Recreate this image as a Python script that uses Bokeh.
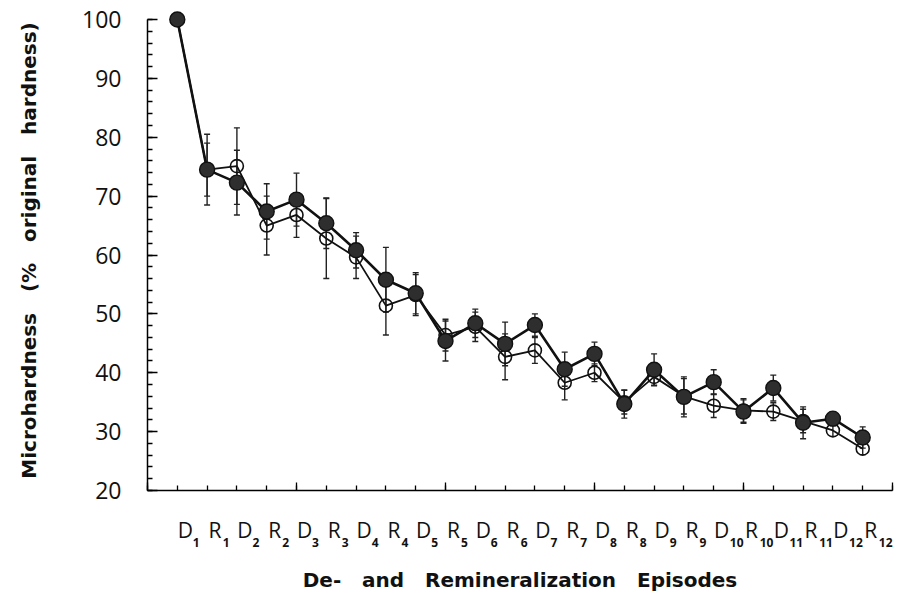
from bokeh.plotting import figure
from bokeh.models import ColumnDataSource, Range1d, FixedTicker, LinearAxis, Whisker, TeeHead
from bokeh.embed import file_html
from bokeh.resources import INLINE

# ---- data ----
episodes = ["D1", "R1", "D2", "R2", "D3", "R3", "D4", "R4", "D5", "R5", "D6", "R6",
            "D7", "R7", "D8", "R8", "D9", "R9", "D10", "R10", "D11", "R11", "D12", "R12"]
positions = list(range(1, 25))

filled = [100, 74.5, 72.3, 67.4, 69.4, 65.4, 60.8, 55.8, 53.5, 45.4, 48.4, 44.9,
          48.1, 40.6, 43.2, 34.7, 40.5, 35.9, 38.4, 33.4, 37.4, 31.5, 32.2, 29.0]
filled_err = [0, 6.0, 5.5, 4.7, 4.5, 4.3, 3.0, 5.5, 3.5, 3.4, 2.4, 3.7,
              1.9, 2.9, 2.0, 2.4, 2.7, 3.4, 2.1, 2.0, 2.2, 2.7, 1.2, 1.8]

open_ = [100, 74.5, 75.1, 65.0, 66.8, 62.8, 59.6, 51.4, 53.2, 46.4, 47.8, 42.7,
         43.8, 38.3, 40.0, 35.0, 39.3, 36.0, 34.4, 33.6, 33.4, 31.8, 30.2, 27.1]
open_err = [0, 4.5, 6.5, 5.0, 3.8, 6.8, 3.6, 5.0, 3.5, 2.7, 2.5, 3.9,
            2.2, 2.9, 1.5, 2.0, 1.4, 3.0, 2.0, 2.0, 1.5, 2.0, 1.0, 1.0]

y_ticks = [20, 30, 40, 50, 60, 70, 80, 90, 100]
GAP = "\u00a0\u00a0\u00a0"
x_title = GAP.join(["De-", "and", "Remineralization", "Episodes"])
y_title = GAP.join(["Microhardness", "(%", "original", "hardness)"])

# ---- figure ----
FW, FH = 745, 480
X0, X1 = 0, 25
PX = FW / (X1 - X0)  # pixels per x unit

p = figure(width=900, height=598, frame_width=FW, frame_height=FH,
           min_border_left=147, min_border_right=8, min_border_top=10, min_border_bottom=108,
           x_range=Range1d(X0, X1), y_range=Range1d(20, 101.53),
           output_backend="svg", toolbar_location=None, tools="")
p.outline_line_color = None
p.grid.visible = False
p.background_fill_color = "white"
p.border_fill_color = "white"

# y axis
ya = p.yaxis[0]
ya.ticker = FixedTicker(ticks=y_ticks, minor_ticks=list(range(20, 101, 2)))
ya.bounds = (20, 100)
ya.major_tick_in = 10
ya.major_tick_out = 0
ya.minor_tick_in = 5
ya.minor_tick_out = 0
ya.axis_line_width = 1.5
ya.major_tick_line_width = 1.3
ya.minor_tick_line_width = 1.3
ya.major_label_text_font = "Open Sans"
ya.major_label_text_font_size = "23px"
ya.major_label_text_color = "#111"
ya.major_label_standoff = 26
ya.axis_label = y_title
ya.axis_label_text_font = "DejaVu Sans"
ya.axis_label_text_font_style = "bold"
ya.axis_label_text_font_size = "20px"
ya.axis_label_text_color = "#111"
ya.axis_label_standoff = 38

# x axis (short ticks at every step)
xa = p.xaxis[0]
xa.ticker = FixedTicker(ticks=[], minor_ticks=list(range(0, 26)))
xa.minor_tick_in = 5
xa.minor_tick_out = 0
xa.axis_line_width = 1.5
xa.minor_tick_line_width = 1.3
xa.major_label_standoff = 0

# longer ticks every 5 steps, drawn on the same baseline
ax_long = LinearAxis(ticker=FixedTicker(ticks=[], minor_ticks=list(range(0, 26, 5))))
ax_long.axis_line_color = None
ax_long.minor_tick_in = 8
ax_long.minor_tick_out = 0
ax_long.minor_tick_line_width = 1.3
ax_long.major_label_standoff = 0
p.add_layout(ax_long, "below")

# category letters (D / R) with lowered small numbers
letters = [e[0] for e in episodes]
subs = [e[1:] for e in episodes]
let_ticks = [round(x + 8 / PX, 4) for x in positions]
sub_ticks = [round(x + (19 if len(s) == 1 else 23) / PX, 4) for x, s in zip(positions, subs)]

ax_let = LinearAxis(ticker=FixedTicker(ticks=let_ticks, minor_ticks=[]),
                    major_label_overrides={t: l for t, l in zip(let_ticks, letters)})
ax_sub = LinearAxis(ticker=FixedTicker(ticks=sub_ticks, minor_ticks=[]),
                    major_label_overrides={t: s for t, s in zip(sub_ticks, subs)})
for ax in (ax_let, ax_sub):
    ax.axis_line_color = None
    ax.major_tick_line_color = None
    ax.minor_tick_line_color = None
    ax.major_tick_in = 0
    ax.major_tick_out = 0
    ax.major_label_text_font = "Open Sans"
    ax.major_label_text_color = "#111"
ax_let.major_label_text_font_size = "21px"
ax_let.major_label_standoff = 25
ax_sub.major_label_text_font_size = "12px"
ax_sub.major_label_text_font_style = "bold"
ax_sub.major_label_standoff = -9
ax_sub.axis_label = x_title
ax_sub.axis_label_text_font = "DejaVu Sans"
ax_sub.axis_label_text_font_style = "bold"
ax_sub.axis_label_text_font_size = "20px"
ax_sub.axis_label_text_color = "#111"
ax_sub.axis_label_standoff = 18
p.add_layout(ax_let, "below")
p.add_layout(ax_sub, "below")

# data sources
src_f = ColumnDataSource(dict(x=positions, y=filled,
                              lo=[v - e for v, e in zip(filled, filled_err)],
                              hi=[v + e for v, e in zip(filled, filled_err)]))
src_o = ColumnDataSource(dict(x=positions, y=open_,
                              lo=[v - e for v, e in zip(open_, open_err)],
                              hi=[v + e for v, e in zip(open_, open_err)]))

for src in (src_o, src_f):
    w = Whisker(source=src, base="x", lower="lo", upper="hi", dimension="height",
                line_color="#222", line_width=1.4,
                lower_head=TeeHead(size=6, line_color="#222", line_width=1.4),
                upper_head=TeeHead(size=6, line_color="#222", line_width=1.4))
    p.add_layout(w)

p.line("x", "y", source=src_o, line_color="#111", line_width=1.8)
p.line("x", "y", source=src_f, line_color="#111", line_width=2.6)
p.scatter("x", "y", source=src_o, size=13, marker="circle",
          fill_color=None, line_color="#111", line_width=1.6)
p.scatter("x", "y", source=src_f, size=15, marker="circle",
          fill_color="#2e2e2e", line_color="#111", line_width=1.4)

open("out.html", "w").write(file_html(p, INLINE))
